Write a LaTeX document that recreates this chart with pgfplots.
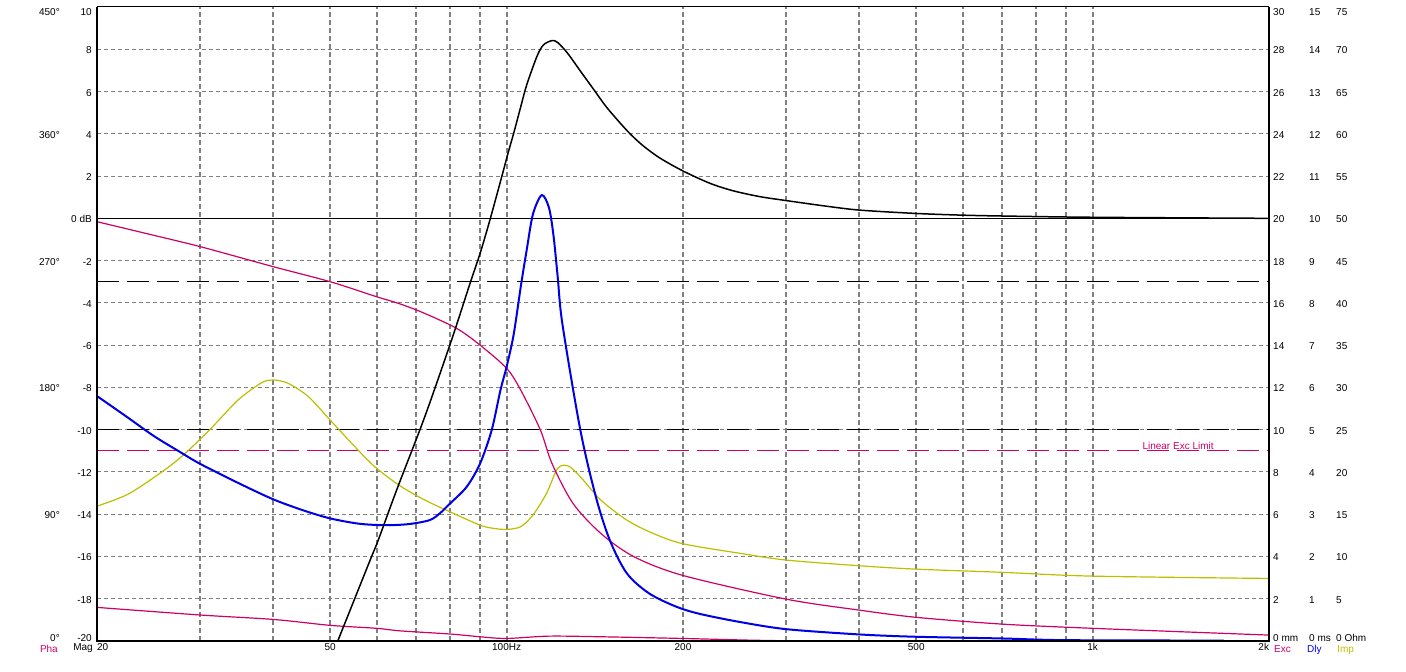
\documentclass[border=0pt]{standalone}
\usepackage{fontspec}
\setmainfont{Liberation Sans}
\usepackage{pgfplots}
\pgfplotsset{compat=1.18}

\definecolor{exc}{RGB}{204,0,102}
\definecolor{dly}{RGB}{0,0,230}
\definecolor{imp}{RGB}{190,190,0}
\definecolor{gridgray}{RGB}{128,128,128}

\pgfplotsset{
  plotbox/.style={at={(97pt,31pt)}, anchor=south west,
    width=1172pt, height=634pt, scale only axis,
    xmin=20, xmax=2000, ymin=-20, ymax=10,
    major tick length=0pt, axis line style={draw=none},
    tick label style={font=\fontsize{10}{12}\selectfont}},
  scaleonly/.style={plotbox, xtick=\empty},
  leftlab/.style={yticklabel style={anchor=base east, inner sep=0pt, xshift=#1, yshift=-4.5pt}},
  rightlab/.style={yticklabel pos=right,
    yticklabel style={anchor=base west, inner sep=0pt, xshift=#1, yshift=-4.5pt}},
}
\newcommand{\up}[1]{\raisebox{3.6pt}{#1}}
\newcommand{\dn}[1]{\raisebox{-3.8pt}{#1}}

\begin{document}
\begin{tikzpicture}
\useasboundingbox (0,0) rectangle (1406pt,672pt);

% phase scale (left, outer)
\begin{semilogxaxis}[scaleonly, leftlab=-37pt, ymin=0, ymax=450,
  ytick={0,90,180,270,360,450},
  yticklabels={\up{0°},90°,180°,270°,360°,\dn{450°}}]
\end{semilogxaxis}

% excursion, delay, impedance scales (right)
\begin{semilogxaxis}[scaleonly, rightlab=4pt, ymin=0, ymax=30, ytick={0,2,...,30},
  yticklabels={\up{0 mm},2,4,6,8,10,12,14,16,18,20,22,24,26,28,\dn{30}}]
\end{semilogxaxis}
\begin{semilogxaxis}[scaleonly, rightlab=40pt, ymin=0, ymax=15, ytick={0,1,...,15},
  yticklabels={\up{0 ms},1,2,3,4,5,6,7,8,9,10,11,12,13,14,\dn{15}}]
\end{semilogxaxis}
\begin{semilogxaxis}[scaleonly, rightlab=67pt, ymin=0, ymax=75, ytick={0,5,...,75},
  yticklabels={\up{0 Ohm},5,10,15,20,25,30,35,40,45,50,55,60,65,70,\dn{75}}]
\end{semilogxaxis}

% main magnitude axis
\begin{semilogxaxis}[plotbox, name=main, leftlab=-5pt,
  xtick={30,40,50,60,70,80,90,100,200,300,400,500,600,700,800,900,1000},
  xticklabels={,,50,,,,,100Hz,200,,,500,,,,,1k},
  extra x ticks={20,2000}, extra x tick labels={\rlap{20},\llap{2k}},
  extra x tick style={grid=none},
  xticklabel style={anchor=north, inner sep=0pt, yshift=-2pt},
  ytick={-20,-18,...,10},
  yticklabels={\up{-20},-18,-16,-14,-12,-10,-8,-6,-4,-2,0 dB,2,4,6,8,\dn{10}},
  grid=major,
  x grid style={gridgray, line width=2pt, dash pattern=on 5pt off 3pt},
  y grid style={gridgray, line width=1pt, dash pattern=on 4pt off 3pt},
]
% reference lines
\addplot[black, line width=1pt] coordinates {(20,0) (2000,0)};
\addplot[black, line width=1pt, dash pattern=on 22pt off 8pt] coordinates {(20,-3) (2000,-3)};
\addplot[black, line width=1pt, dash pattern=on 22pt off 8pt] coordinates {(20,-10) (2000,-10)};
\addplot[exc, line width=1pt, dash pattern=on 22pt off 8pt] coordinates {(20,-11) (2000,-11)};
\node[exc, anchor=base, font=\fontsize{10}{12}\selectfont] at (axis cs:1399,-10.95) {Linear Exc Limit};

% phase (lower magenta)
\addplot[exc, line width=1.2pt, smooth, mark=none] table {
20 -18.41
30 -18.77
40 -18.98
50 -19.26
60 -19.40
65.8 -19.52
80.1 -19.67
90.1 -19.80
100 -19.88
118 -19.77
145 -19.80
200 -19.88
260 -19.96
320 -20
};

% impedance
\addplot[imp, line width=1.2pt, smooth, mark=none] table {
20 -13.62
22.6 -13.05
25.8 -12.0
28.1 -11.19
31.2 -9.98
34.8 -8.6
38.2 -7.78
40 -7.65
42.4 -7.81
45.9 -8.44
50 -9.55
55.1 -10.81
59.6 -11.76
65.8 -12.66
72.5 -13.33
80.1 -13.89
90.1 -14.52
95 -14.67
100 -14.72
105.7 -14.59
110.9 -14.04
117 -13.01
122.2 -11.83
127.4 -11.72
133.6 -12.23
144.8 -13.33
160.4 -14.28
177.9 -14.91
200 -15.4
250 -15.85
300 -16.17
400 -16.44
500 -16.6
700 -16.75
1000 -16.93
2000 -17.04
};

% excursion
\addplot[exc, line width=1.2pt, smooth, mark=none] table {
20 -0.16
24.2 -0.71
30 -1.34
40 -2.29
50 -3.0
60 -3.71
65.8 -4.05
72.5 -4.5
82.2 -5.21
90.1 -6.0
100 -7.1
105.7 -8.13
114.2 -10.02
119.5 -11.6
129.8 -13.49
144.8 -14.91
164.9 -16.01
200 -16.9
300 -18.02
400 -18.54
500 -18.88
700 -19.2
1000 -19.4
2000 -19.72
};

% group delay
\addplot[dly, line width=2pt, smooth, mark=none] table {
20 -8.41
22.5 -9.4
25 -10.3
27.5 -11.0
30 -11.62
35 -12.55
40 -13.3
45 -13.82
50 -14.2
56 -14.45
62 -14.52
68 -14.47
73.9 -14.28
77 -13.95
80.1 -13.49
85.5 -12.7
90.1 -11.6
94.3 -10.02
97.6 -8.13
100 -7.02
102.8 -5.5
105.7 -3.24
108.2 -1.5
110.9 0.2
114.8 1.10
118.1 0.5
120.2 -0.8
122.2 -2.75
124.5 -5.0
133.6 -10.02
142.0 -13.18
150 -15.23
160.4 -16.8
175.1 -17.75
194.9 -18.38
213.8 -18.72
250 -19.1
300 -19.44
400 -19.69
500 -19.8
700 -19.88
900 -19.96
1675 -19.98
};

% magnitude
\addplot[black, line width=1.5pt, smooth, mark=none] table {
51.5 -20
58.5 -16.17
60.4 -15.22
64.9 -12.86
72.5 -9.39
80.6 -5.73
86.6 -3.08
90.1 -1.66
93.7 -0.05
98.1 1.97
100.7 3.15
102.8 4.02
105.7 5.28
108.2 6.31
112.6 7.65
115.5 8.2
119.5 8.41
122.2 8.32
127 7.82
133.6 6.97
140.6 6.12
147.6 5.31
155.3 4.59
162.7 3.98
171.2 3.42
182.7 2.85
200 2.24
222.2 1.66
243 1.31
270 1.03
300 0.84
350 0.58
400 0.39
500 0.23
600 0.15
700 0.11
1000 0.05
2000 0.0
};
\end{semilogxaxis}

% frame
\draw[line width=2pt, line join=miter] (main.north west) -- (main.south west)
  -- (main.south east) -- (main.north east);
\draw[line width=1pt] (main.north west) -- (main.north east);

% captions under the scales
\begin{scope}[font=\fontsize{10}{12}\selectfont, inner sep=0pt]
\node[anchor=north east] at ([xshift=-4pt,yshift=-2.5pt]main.south west) {Mag};
\node[anchor=north east, text=exc] at ([xshift=-39pt,yshift=-4.5pt]main.south west) {Pha};
\node[anchor=north west, text=exc] at ([xshift=5pt,yshift=-4.5pt]main.south east) {Exc};
\node[anchor=north west, text=dly] at ([xshift=38pt,yshift=-4.5pt]main.south east) {Dly};
\node[anchor=north west, text=imp] at ([xshift=68pt,yshift=-4.5pt]main.south east) {Imp};
\end{scope}
\end{tikzpicture}
\end{document}
